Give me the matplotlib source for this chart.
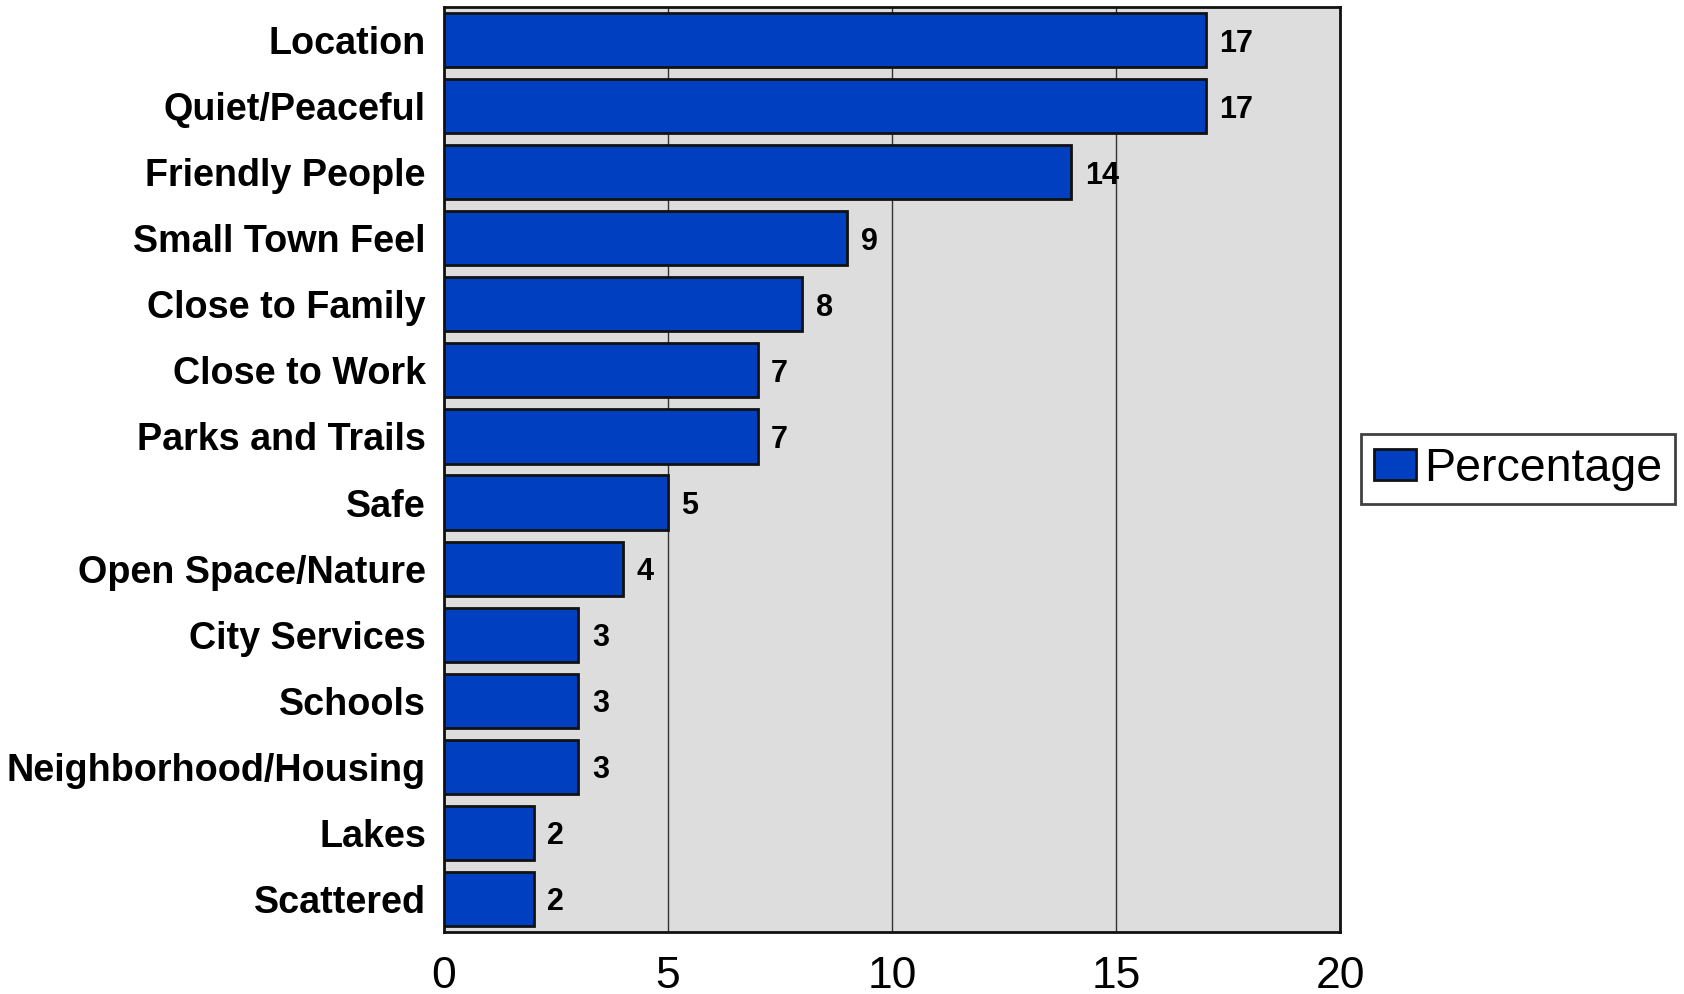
import matplotlib
matplotlib.use("Agg")
import matplotlib.pyplot as plt

categories = ["Location", "Quiet/Peaceful", "Friendly People", "Small Town Feel",
              "Close to Family", "Close to Work", "Parks and Trails", "Safe",
              "Open Space/Nature", "City Services", "Schools",
              "Neighborhood/Housing", "Lakes", "Scattered"]
values = [17, 17, 14, 9, 8, 7, 7, 5, 4, 3, 3, 3, 2, 2]
xticks = [0, 5, 10, 15, 20]

plt.rcParams['font.family'] = ['Liberation Sans', 'DejaVu Sans']

W, H = 1684, 994
fig = plt.figure(figsize=(W / 100, H / 100), dpi=100)
left, right, top, bottom = 444, 1340, 7, 932
ax = fig.add_axes([left / W, 1 - bottom / H, (right - left) / W, (bottom - top) / H])
ax.set_facecolor("#DDDDDD")

ypos = list(range(len(categories)))
bars = ax.barh(ypos, values, height=0.82, color="#0040C0", edgecolor="#111111",
               linewidth=2, label="Percentage", zorder=3)
ax.set_ylim(len(categories) - 0.5, -0.5)
ax.set_xlim(0, 20)
ax.set_xticks(xticks)
ax.set_xticklabels([str(t) for t in xticks], fontsize=32)
ax.set_yticks(ypos)
ax.set_yticklabels(categories, fontsize=27.2, fontweight="bold")
ax.tick_params(axis="both", length=0)
ax.tick_params(axis="x", pad=17)
ax.tick_params(axis="y", pad=13)
ax.xaxis.grid(True, color="#333333", linewidth=1, zorder=1)
ax.set_axisbelow(True)
for s in ax.spines.values():
    s.set_linewidth(2)
    s.set_color("#111111")

for y, v in zip(ypos, values):
    ax.text(v + 0.3, y, str(v), va="center_baseline", ha="left", fontsize=22,
            fontweight="bold", zorder=4)

leg = fig.legend(handles=[bars], labels=["Percentage"], loc="center",
                 bbox_to_anchor=(1518 / W, 1 - 469 / H), fontsize=33.5,
                 frameon=True, fancybox=False, edgecolor="#111111",
                 handlelength=0.92, handleheight=0.63, handletextpad=0.17,
                 borderpad=0.28, borderaxespad=0)
leg.get_frame().set_linewidth(2)

fig.savefig("out.png", dpi=100)
